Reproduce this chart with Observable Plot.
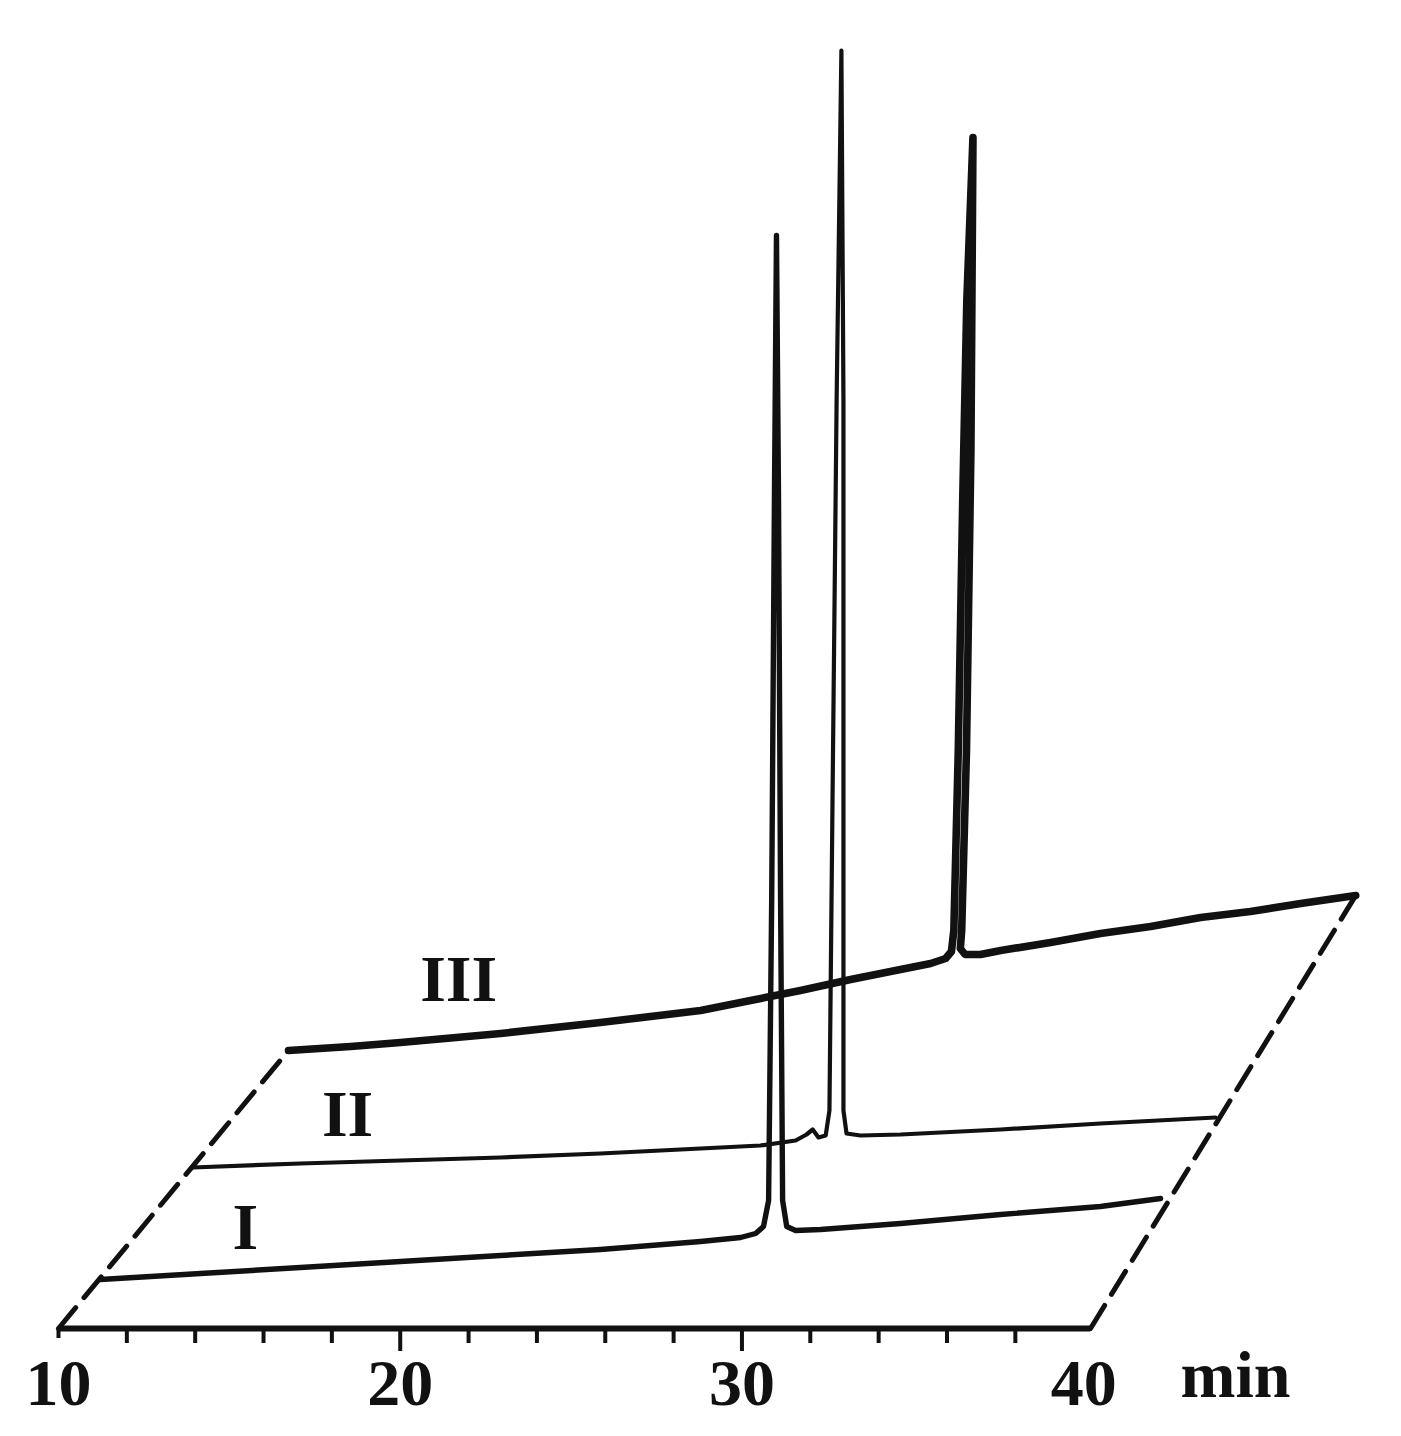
<!DOCTYPE html>
<html><head><meta charset="utf-8">
<script src="https://cdn.jsdelivr.net/npm/d3@7"></script>
<script src="https://cdn.jsdelivr.net/npm/@observablehq/plot@0.6"></script>
<style>body{margin:0;background:#fff}#chart svg{display:block}</style>
</head><body><div id="chart"></div>
<script>
// Chromatograms I, II, III: retention time (min) and detector signal (arbitrary units)
const traceNames = ["I", "II", "III"];

const timeI = [10.00, 12.93, 15.85, 18.78, 21.71, 24.63, 27.56, 28.73, 29.17, 29.40, 29.55, 29.64, 29.72, 29.78, 29.84, 29.90, 29.96, 30.08, 30.34, 31.07, 33.41, 36.34, 39.26, 41.02];
const signalI = [0, 0.6, 1.2, 1.8, 2.4, 3.0, 3.8, 4.2, 4.6, 5.3, 7.9, 37.9, 77.9, 104.4, 77.9, 37.9, 7.9, 5.3, 4.9, 5.0, 5.6, 6.5, 7.3, 8.1];

const timeII = [10.00, 13.16, 16.09, 19.02, 21.94, 24.87, 26.62, 27.65, 27.97, 28.15, 28.32, 28.53, 28.64, 28.73, 28.85, 28.99, 29.05, 29.05, 29.05, 29.14, 29.55, 30.72, 33.65, 36.57, 39.94];
const signalII = [0, 0.4, 0.7, 1.0, 1.4, 1.9, 2.2, 2.7, 3.3, 3.8, 3.0, 3.2, 5.7, 36.7, 76.7, 111.7, 76.7, 36.7, 5.7, 3.4, 3.2, 3.3, 3.8, 4.4, 5.0];

const timeIII = [10.00, 11.82, 13.28, 16.21, 19.13, 22.06, 23.52, 24.98, 26.45, 27.91, 28.79, 29.23, 29.40, 29.47, 29.60, 29.73, 29.85, 30.03, 29.97, 29.84, 29.70, 29.66, 29.80, 30.25, 30.84, 32.30, 33.76, 35.23, 36.69, 38.15, 39.62, 41.23];
const signalIII = [0, 0.4, 0.8, 1.7, 2.8, 4.0, 5.0, 6.0, 7.1, 8.1, 8.7, 9.2, 9.9, 12.0, 30.0, 55.0, 75.0, 91.3, 60.0, 30.0, 12.0, 10.2, 9.6, 9.6, 10.0, 10.8, 11.7, 12.4, 13.3, 13.9, 14.7, 15.5];

// Pseudo-3D depth offsets of each trace (time shift in min, signal shift in units)
const depthShiftTime = [1.23, 3.92, 6.73];
const depthShiftSignal = [4.9, 16.1, 27.8];

// Label anchor positions (retention time, signal above trace start)
const labelTime = [14.24, 14.54, 14.98];
const labelSignal = [3.1, 3.2, 5.0];

// Axis ticks
const minorTicks = [12, 14, 16, 18, 22, 24, 26, 28, 32, 34, 36, 38];
const majorTicks = [20, 30];
const tickLabels = [10, 20, 30, 40];
const axisUnit = "min";

const traces = [[timeI, signalI], [timeII, signalII], [timeIII, signalIII]].map(([ts, ss], k) =>
  ts.map((t, i) => ({trace: traceNames[k], x: t + depthShiftTime[k], y: ss[i] + depthShiftSignal[k]}))
);
const widths = [5.4, 4.2, 7.6];

const first3 = traces[2][0], last3 = traces[2][traces[2].length - 1];
const dashLeft = [{x: 10, y: 0}, {x: first3.x, y: first3.y}];
const dashRight = [{x: 40.2, y: 0}, {x: last3.x, y: last3.y}];

const labels = traceNames.map((n, k) => ({n, x: labelTime[k] + depthShiftTime[k], y: labelSignal[k] + depthShiftSignal[k]}));

const font = "'Liberation Serif', 'Times New Roman', serif";

const chart = Plot.plot({
  width: 1401,
  height: 1436,
  margin: 0,
  x: {domain: [8.303, 49.30], axis: null},
  y: {domain: [-10.8, 132.8], axis: null},
  style: {background: "#fff"},
  marks: [
    Plot.line(dashLeft, {x: "x", y: "y", stroke: "#111", strokeWidth: 5, strokeDasharray: "27,13"}),
    Plot.line(dashRight, {x: "x", y: "y", stroke: "#111", strokeWidth: 5, strokeDasharray: "27,13"}),
    Plot.ruleY([0], {x1: 10, x2: 40.2, stroke: "#111", strokeWidth: 6}),
    Plot.ruleX(minorTicks, {x: d => d, y1: 0, y2: -1.5, stroke: "#111", strokeWidth: 4}),
    Plot.ruleX(majorTicks, {x: d => d, y1: 0, y2: -2.3, stroke: "#111", strokeWidth: 4}),
    Plot.ruleX([10], {x: d => d, y1: 0, y2: -1.0, stroke: "#111", strokeWidth: 4}),
    ...traces.map((data, k) => Plot.line(data, {x: "x", y: "y", stroke: "#111", strokeWidth: widths[k], strokeLinejoin: "round", strokeLinecap: "round"})),
    Plot.text(tickLabels, {x: d => d, y: -7.6, text: d => String(d), lineAnchor: "bottom", fontSize: 66, fontWeight: "bold", fontFamily: font, fill: "#111"}),
    Plot.text([axisUnit], {x: 42.83, y: -6.8, text: d => d, textAnchor: "start", lineAnchor: "bottom", fontSize: 66, fontWeight: "bold", fontFamily: font, fill: "#111"}),
    Plot.text(labels, {x: "x", y: "y", text: "n", lineAnchor: "bottom", fontSize: 66, fontWeight: "bold", fontFamily: font, fill: "#111"})
  ]
});
document.getElementById("chart").append(chart);
</script>
</body></html>
